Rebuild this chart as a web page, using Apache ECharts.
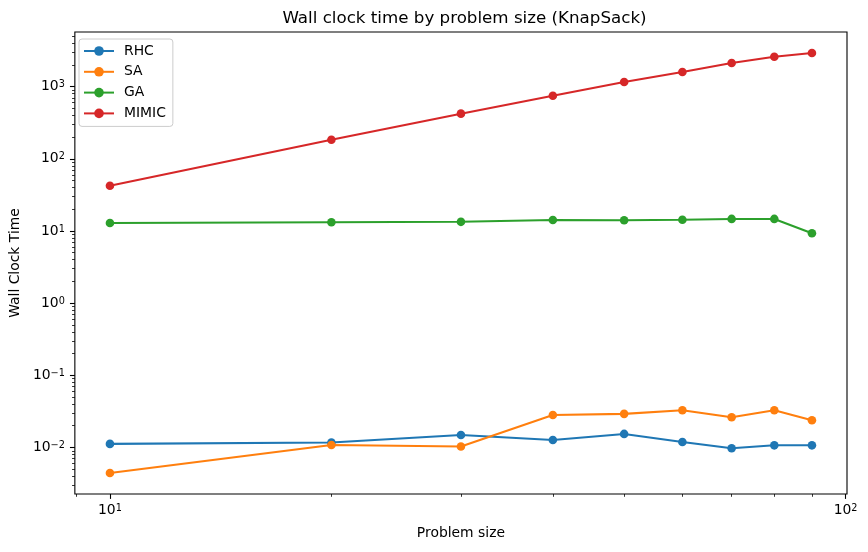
<!DOCTYPE html>
<html>
<head>
<meta charset="utf-8">
<script src="https://cdn.jsdelivr.net/npm/echarts@6/dist/echarts.min.js"></script>
<style>html,body{margin:0;padding:0;background:#fff}#c{width:868px;height:552px}</style>
</head>
<body>
<div id="c"></div>
<script>
var sizes = [10, 20, 30, 40, 50, 60, 70, 80, 90];
var rhc   = [0.0112, 0.0117, 0.0149, 0.0127, 0.0154, 0.0119, 0.00975, 0.0107, 0.0107];
var sa    = [0.00443, 0.0108, 0.0103, 0.0282, 0.0292, 0.0328, 0.0262, 0.0328, 0.0238];
var ga    = [12.9, 13.2, 13.4, 14.2, 14.1, 14.3, 14.7, 14.7, 9.3];
var mimic = [42.4, 184, 423, 750, 1162, 1600, 2133, 2606, 2930];
var seriesNames = ['RHC', 'SA', 'GA', 'MIMIC'];
var xMajorTicks = [10, 100];
var yMajorTicks = [0.01, 0.1, 1, 10, 100, 1000];

var X_MIN = 8.96, X_MAX = 100.44;
var Y_MIN = 0.002264, Y_MAX = 5728;
var FONT = 'DejaVu Sans';
var colors = ['#1f77b4', '#ff7f0e', '#2ca02c', '#d62728'];

function minorTicks(lo, hi) {
  var out = [];
  for (var e = -4; e <= 3; e++) {
    for (var m = 2; m <= 9; m++) {
      var v = m * Math.pow(10, e);
      if (v >= lo && v <= hi) out.push(v);
    }
  }
  return out;
}
function fmt(v) {
  var e = Math.round(Math.log10(v));
  var s = e < 0 ? '\u2212' + (-e) : String(e);
  return '{b|10}{s|' + s + '}';
}
var rich = {
  b: { fontSize: 13.9, fontFamily: FONT, color: '#000', lineHeight: 16 },
  s: { fontSize: 9.7, fontFamily: FONT, color: '#000', lineHeight: 16, padding: [0, 0, 4, 0] }
};

var data = [rhc, sa, ga, mimic];
var series = seriesNames.map(function (n, i) {
  return {
    name: n, type: 'line', xAxisIndex: 0, yAxisIndex: 0,
    data: sizes.map(function (x, j) { return [x, data[i][j]]; }),
    symbol: 'circle', symbolSize: 8.6, showSymbol: true,
    lineStyle: { width: 2.08, color: colors[i] },
    itemStyle: { color: colors[i] },
    emphasis: { disabled: true },
    z: 2 + i
  };
});

var chart = echarts.init(document.getElementById('c'), null, { renderer: 'canvas' });
chart.setOption({
  animation: false,
  backgroundColor: '#fff',
  title: {
    text: 'Wall clock time by problem size (KnapSack)',
    left: 459.5, top: 5, textAlign: 'center',
    textStyle: { fontFamily: FONT, fontSize: 16.7, fontWeight: 'normal', color: '#000' }
  },
  legend: {
    orient: 'vertical', left: 79, top: 39,
    data: seriesNames,
    itemWidth: 30, itemHeight: 12, itemGap: 6.8,
    padding: [5, 7, 6, 4],
    borderColor: '#cccccc', borderWidth: 1, borderRadius: 3,
    backgroundColor: 'rgba(255,255,255,0.8)',
    textStyle: { fontFamily: FONT, fontSize: 13.9, color: '#000', lineHeight: 14, padding: [0, 0, 0, 5] }
  },
  grid: { left: 72, right: 21, top: 32, bottom: 58, show: true, borderColor: '#000', borderWidth: 1.1, backgroundColor: 'transparent' },
  xAxis: [{
    type: 'log', logBase: 10, min: X_MIN, max: X_MAX, position: 'bottom',
    name: 'Problem size', nameLocation: 'middle', nameGap: 32,
    nameTextStyle: { fontFamily: FONT, fontSize: 13.9, color: '#000' },
    axisLine: { show: false },
    axisTick: { show: true, customValues: xMajorTicks, length: 4.9, inside: false, lineStyle: { color: '#000', width: 1.1 } },
    axisLabel: { show: true, customValues: xMajorTicks, margin: 8, formatter: fmt, rich: rich },
    splitLine: { show: false }, minorTick: { show: false }
  }, {
    type: 'log', logBase: 10, min: X_MIN, max: X_MAX, position: 'bottom', gridIndex: 0,
    axisLine: { show: false },
    axisTick: { show: true, customValues: minorTicks(X_MIN, X_MAX), length: 2.8, lineStyle: { color: '#000', width: 0.8 } },
    axisLabel: { show: false }, splitLine: { show: false }
  }],
  yAxis: [{
    type: 'log', logBase: 10, min: Y_MIN, max: Y_MAX, position: 'left',
    name: 'Wall Clock Time', nameLocation: 'middle', nameGap: 47,
    nameTextStyle: { fontFamily: FONT, fontSize: 13.9, color: '#000' },
    axisLine: { show: false },
    axisTick: { show: true, customValues: yMajorTicks, length: 4.9, lineStyle: { color: '#000', width: 1.1 } },
    axisLabel: { show: true, customValues: yMajorTicks, margin: 10, formatter: fmt, rich: rich },
    splitLine: { show: false }
  }, {
    type: 'log', logBase: 10, min: Y_MIN, max: Y_MAX, position: 'left', gridIndex: 0,
    axisLine: { show: false },
    axisTick: { show: true, customValues: minorTicks(Y_MIN, Y_MAX), length: 2.8, lineStyle: { color: '#000', width: 0.8 } },
    axisLabel: { show: false }, splitLine: { show: false }
  }],
  series: series
});
</script>
</body>
</html>
